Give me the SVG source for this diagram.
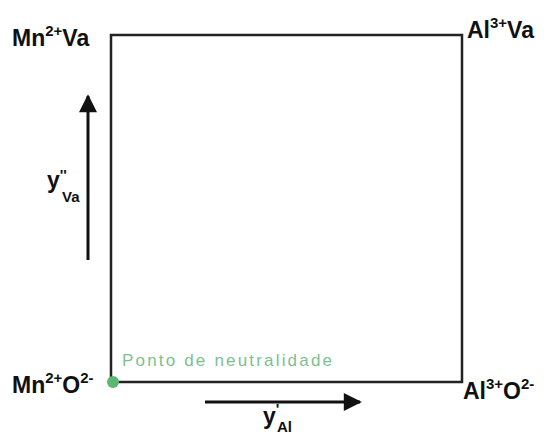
<svg xmlns="http://www.w3.org/2000/svg" width="544" height="437" viewBox="0 0 544 437">
<style>
.lbl{font-family:"Liberation Sans",Arial,sans-serif;font-weight:bold;font-size:23px;fill:#111}
.sup{font-size:15px}
.sub{font-family:"Liberation Sans",Arial,sans-serif;font-weight:bold;font-size:15px;fill:#111}
.ax{stroke:#111;stroke-width:3;fill:none}
</style>
<defs>
<marker id="ah" viewBox="0 0 10 10" refX="9" refY="5" markerWidth="19" markerHeight="18" orient="auto" markerUnits="userSpaceOnUse">
<path d="M0,0 L10,5 L0,10 Z" fill="#111"/>
</marker>
</defs>
<rect width="544" height="437" fill="#fff"/>
<g id="square">
<rect x="111" y="35" width="351" height="347" fill="none" stroke="#222" stroke-width="2.5"/>
</g>
<g id="connectors">
<line class="ax" x1="88" y1="260" x2="88" y2="96" marker-end="url(#ah)"/>
<line class="ax" x1="205" y1="402" x2="360" y2="402" marker-end="url(#ah)"/>
</g>
<g id="mn-va">
<text class="lbl" x="12" y="46">Mn<tspan class="sup" dy="-10">2+</tspan><tspan dy="10">Va</tspan></text>
</g>
<g id="al-va">
<text class="lbl" x="467" y="38">Al<tspan class="sup" dy="-10">3+</tspan><tspan dy="10">Va</tspan></text>
</g>
<g id="mn-o">
<text class="lbl" x="12" y="393">Mn<tspan class="sup" dy="-10">2+</tspan><tspan dy="10">O</tspan><tspan class="sup" dy="-10">2-</tspan></text>
</g>
<g id="al-o">
<text class="lbl" x="463" y="399">Al<tspan class="sup" dy="-10">3+</tspan><tspan dy="10">O</tspan><tspan class="sup" dy="-10">2-</tspan></text>
</g>
<g id="yva">
<text class="lbl" x="47" y="188">y<tspan class="sup" dy="-8">''</tspan></text>
<text class="sub" x="62" y="202">Va</text>
</g>
<g id="yal">
<text class="lbl" x="263" y="424">y<tspan class="sup" dy="-10">'</tspan></text>
<text class="sub" x="277" y="432">Al</text>
</g>
<g id="neutral">
<circle cx="113" cy="382" r="6" fill="#5cb870"/>
<text x="122" y="366" font-family="Liberation Sans,Arial,sans-serif" font-size="17" fill="#7cc190" textLength="210">Ponto de neutralidade</text>
</g>
</svg>
